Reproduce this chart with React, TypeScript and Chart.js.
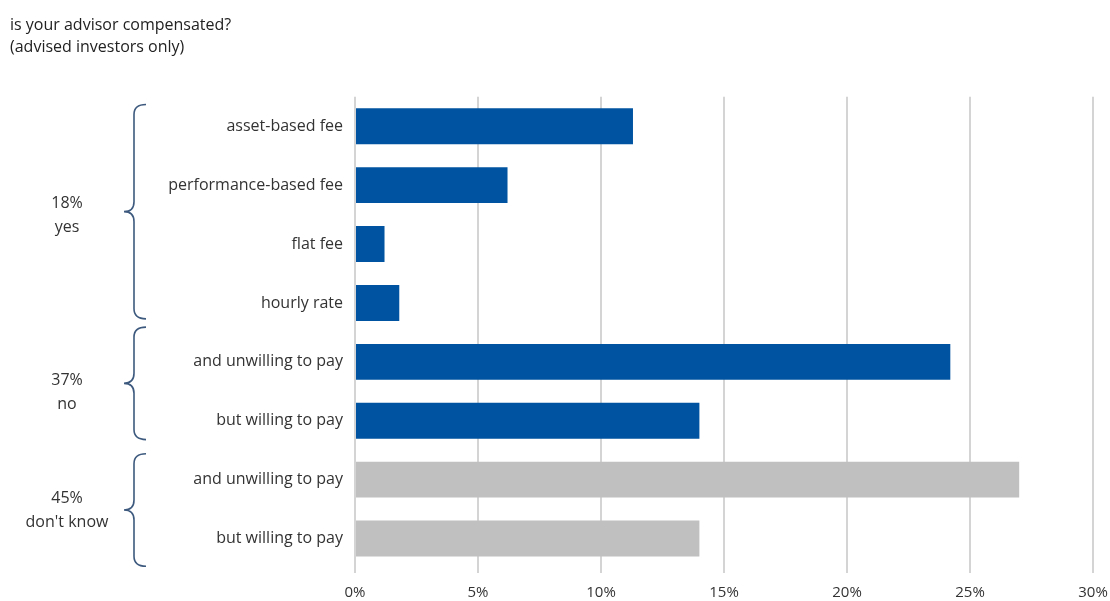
import React, { useEffect, useRef } from "react";
import { Chart, registerables } from "chart.js";

Chart.register(...registerables);

const titleLines = ["is your advisor compensated?", "(advised investors only)"];
const categories = [
  "asset-based fee",
  "performance-based fee",
  "flat fee",
  "hourly rate",
  "and unwilling to pay",
  "but willing to pay",
  "and unwilling to pay",
  "but willing to pay",
];
const values = [11.3, 6.2, 1.2, 1.8, 24.2, 14.0, 27.0, 14.0];
const barColors = ["#0053a1", "#0053a1", "#0053a1", "#0053a1", "#0053a1", "#0053a1", "#c0c0c0", "#c0c0c0"];
const groupLabels = [["18%", "yes"], ["37%", "no"], ["45%", "don't know"]];
const groupStart = [0, 4, 6];
const groupEnd = [3, 5, 7];
// brace extents in category units
const braceTop = [-0.37, 3.41, 5.56];
const braceBottom = [3.27, 5.32, 7.47];
const xTicks = [0, 5, 10, 15, 20, 25, 30];

const FONT = "'Open Sans', sans-serif";

const bracePlugin = {
  id: "braces",
  afterDraw(chart: any) {
    const ctx = chart.ctx;
    const y = chart.scales.y;
    const bx = 134;
    ctx.save();
    ctx.strokeStyle = "#3d5a7e";
    ctx.lineWidth = 1.6;
    for (let g = 0; g < groupStart.length; g++) {
      const top = y.getPixelForValue(braceTop[g]);
      const bottom = y.getPixelForValue(braceBottom[g]);
      const mid = (top + bottom) / 2;
      const r = 10;
      ctx.beginPath();
      ctx.moveTo(bx + 12, top);
      ctx.quadraticCurveTo(bx, top, bx, top + r);
      ctx.lineTo(bx, mid - r);
      ctx.quadraticCurveTo(bx, mid, bx - 10, mid);
      ctx.quadraticCurveTo(bx, mid, bx, mid + r);
      ctx.lineTo(bx, bottom - r);
      ctx.quadraticCurveTo(bx, bottom, bx + 12, bottom);
      ctx.stroke();
      const center = (y.getPixelForValue(groupStart[g]) + y.getPixelForValue(groupEnd[g])) / 2;
      ctx.fillStyle = "#333333";
      ctx.font = `16px ${FONT}`;
      ctx.textAlign = "center";
      ctx.textBaseline = "middle";
      ctx.fillText(groupLabels[g][0], 67, center - 11);
      ctx.fillText(groupLabels[g][1], 67, center + 13);
    }
    ctx.restore();
  },
};

export default function App() {
  const ref = useRef<HTMLCanvasElement>(null);
  useEffect(() => {
    const chart = new Chart(ref.current!, {
      type: "bar",
      data: {
        labels: categories,
        datasets: [
          {
            data: values,
            backgroundColor: barColors,
            borderWidth: 0,
            barPercentage: 0.61,
            categoryPercentage: 1,
          },
        ],
      },
      options: {
        indexAxis: "y",
        animation: false,
        responsive: false,
        layout: { padding: { left: 10, right: 17, top: 0, bottom: 0 } },
        plugins: {
          legend: { display: false },
          tooltip: { enabled: false },
          title: {
            display: true,
            text: titleLines,
            align: "start",
            color: "#222222",
            font: { family: FONT, size: 16, weight: "normal", lineHeight: 1.4 },
            padding: { top: 14, bottom: 38 },
          },
        },
        scales: {
          x: {
            min: 0,
            max: 30,
            afterBuildTicks: (s: any) => {
              s.ticks = xTicks.map((v) => ({ value: v }));
            },
            afterFit: (s: any) => {
              s.height = 33;
              s.paddingLeft = 0;
              s.paddingRight = 0;
            },
            grid: { color: "#d4d4d4", lineWidth: 2, tickLength: 5, drawTicks: true },
            border: { display: false },
            ticks: {
              color: "#333333",
              padding: 11,
              font: { family: FONT, size: 15 },
              callback: (v: any) => `${v}%`,
            },
          },
          y: {
            afterFit: (s: any) => {
              s.width = 345;
            },
            grid: { display: false, drawTicks: false },
            border: { display: false },
            ticks: {
              color: "#333333",
              padding: 12,
              font: { family: FONT, size: 16 },
            },
          },
        },
      },
      plugins: [bracePlugin],
    } as any);
    return () => chart.destroy();
  }, []);
  return (
    <div style={{ position: "fixed", left: 0, top: 0, width: 1110, height: 601, background: "#fff" }}>
      <canvas ref={ref} width={1110} height={601} />
    </div>
  );
}
